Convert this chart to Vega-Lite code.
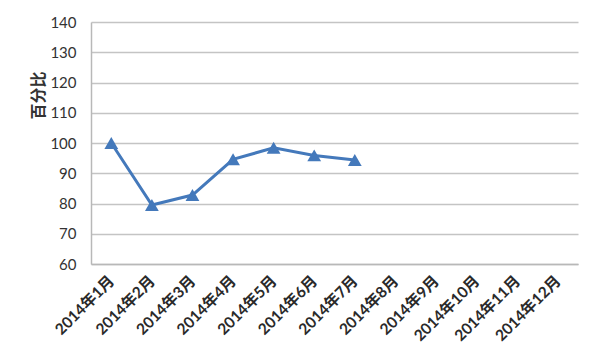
{
  "$schema": "https://vega.github.io/schema/vega-lite/v6.json",
  "autosize": {"type": "none"},
  "padding": {"left": 91, "top": 22, "right": 22, "bottom": 98},
  "width": 487,
  "height": 242,
  "background": "white",
  "config": {"view": {"stroke": null}},
  "data": {
    "values": [
      {"month": "2014年1月", "value": 100},
      {"month": "2014年2月", "value": 79.5},
      {"month": "2014年3月", "value": 82.8},
      {"month": "2014年4月", "value": 94.6},
      {"month": "2014年5月", "value": 98.4},
      {"month": "2014年6月", "value": 95.9},
      {"month": "2014年7月", "value": 94.4},
      {"month": "2014年8月", "value": null},
      {"month": "2014年9月", "value": null},
      {"month": "2014年10月", "value": null},
      {"month": "2014年11月", "value": null},
      {"month": "2014年12月", "value": null}
    ]
  },
  "encoding": {
    "x": {
      "field": "month",
      "type": "ordinal",
      "sort": null,
      "scale": {"type": "point", "padding": 0.5},
      "axis": {
        "title": null,
        "labelAngle": -45,
        "labelAlign": "right",
        "labelBaseline": "middle",
        "labelPadding": 14,
        "ticks": false,
        "domain": true,
        "domainColor": "#b8b8b8",
        "domainWidth": 1.5,
        "grid": false,
        "labelFont": "Lato, 'Noto Sans CJK SC'",
        "labelFontSize": 15.5,
        "labelFontWeight": "bold",
        "labelColor": "#2a2a2a",
        "labelOverlap": false
      }
    },
    "y": {
      "field": "value",
      "type": "quantitative",
      "scale": {"domain": [60, 140], "nice": false, "zero": false},
      "axis": {
        "values": [60, 70, 80, 90, 100, 110, 120, 130, 140],
        "title": "百分比",
        "titleFont": "Noto Sans CJK SC",
        "titleFontWeight": "bold",
        "titleFontSize": 16,
        "titleColor": "#333333",
        "titleX": -53,
        "titleY": 73,
        "titleAlign": "center",
        "titleBaseline": "middle",
        "ticks": false,
        "labelPadding": 15,
        "labelFont": "Lato",
        "labelFontSize": 15,
        "labelColor": "#333333",
        "domain": true,
        "domainColor": "#b8b8b8",
        "domainWidth": 1.5,
        "grid": true,
        "gridColor": "#c4c4c4",
        "gridWidth": 1.5
      }
    }
  },
  "layer": [
    {
      "mark": {"type": "line", "color": "#4479bb", "strokeWidth": 3}
    },
    {
      "mark": {"type": "point", "shape": "triangle-up", "filled": true, "size": 190, "color": "#4479bb", "opacity": 1}
    }
  ]
}
